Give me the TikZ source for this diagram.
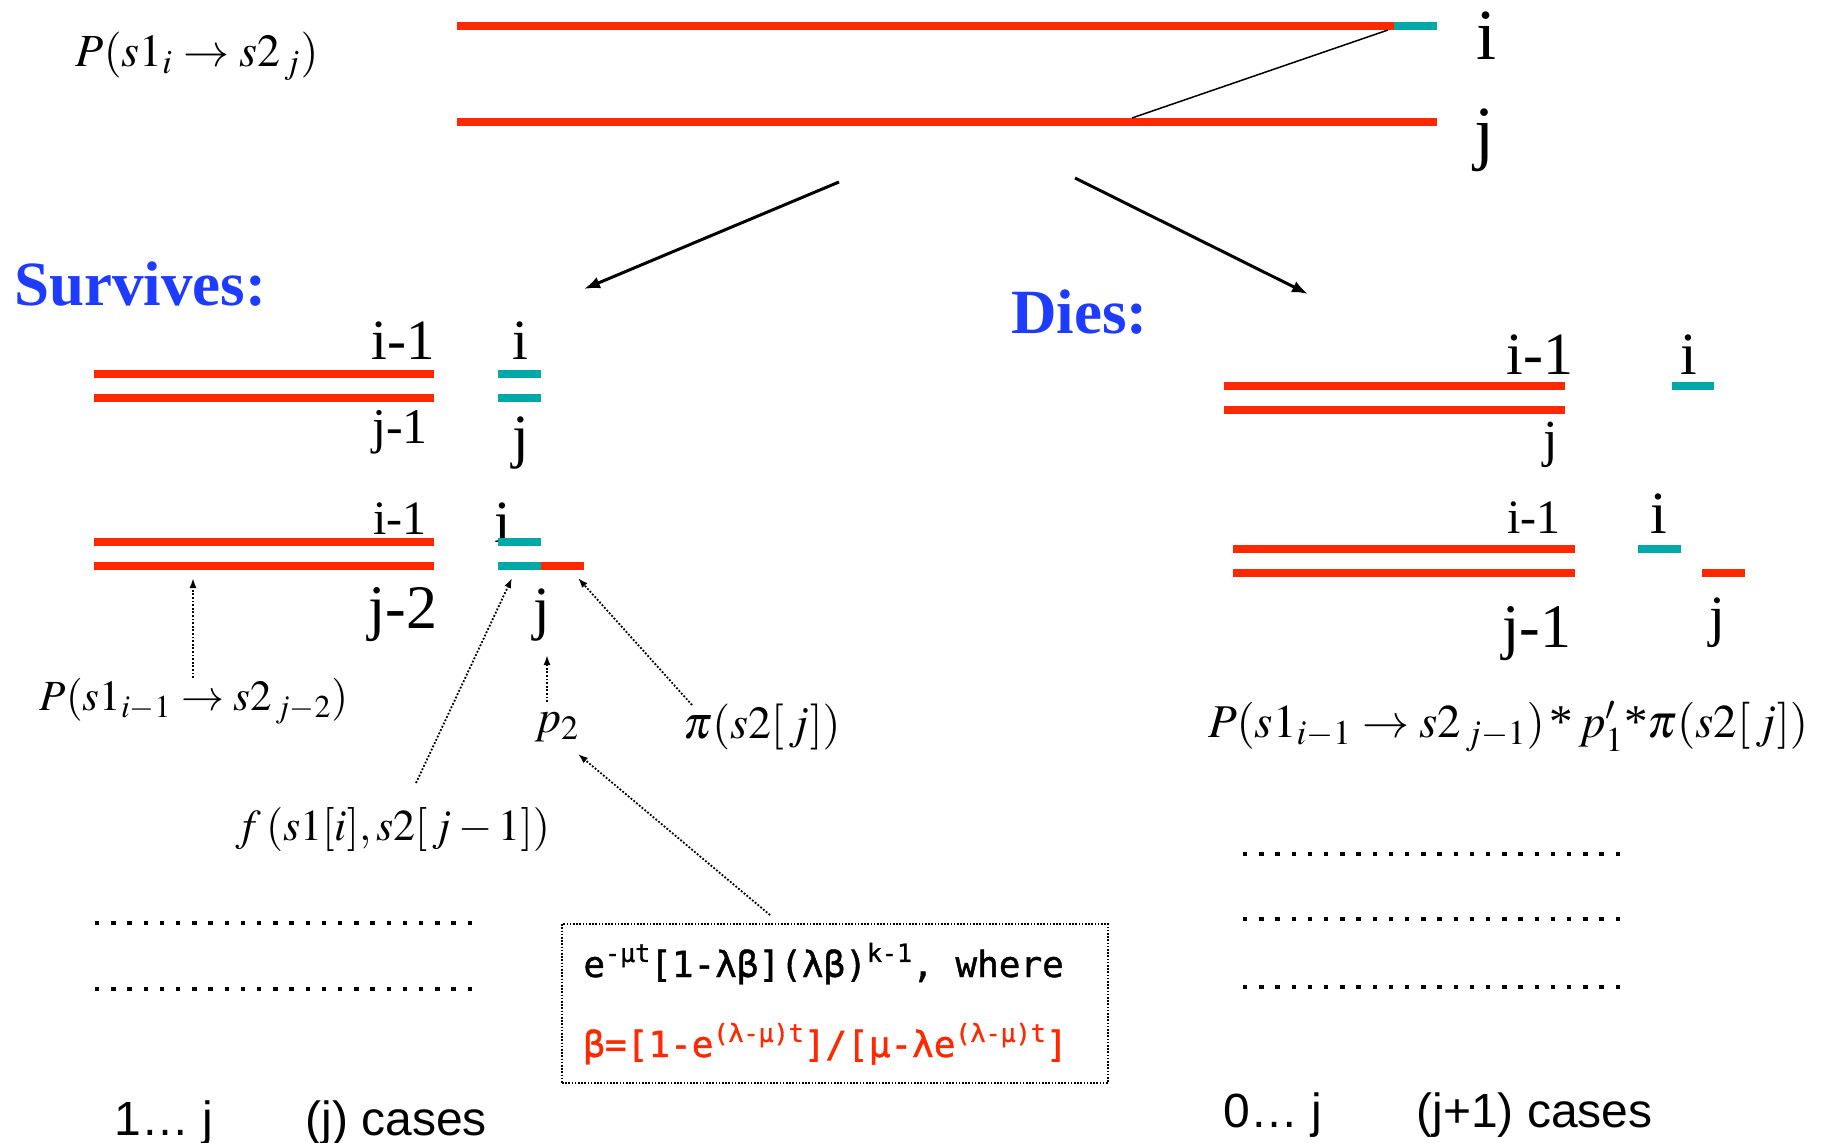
\documentclass[tikz,border=0pt]{standalone}
\usepackage{mathptmx}
\usepackage{fontspec}
\setmainfont{Liberation Serif}
\setsansfont{Liberation Sans}
\newfontfamily\boxfont[FakeBold=1.2]{DejaVu Sans Mono}
\usetikzlibrary{arrows.meta}
\definecolor{barred}{RGB}{255,40,0}
\definecolor{barteal}{RGB}{0,168,168}
\definecolor{headblue}{RGB}{30,60,255}
\newcommand\fs[1]{\fontsize{#1}{#1}\selectfont}
\newcommand\hsup[1]{\raisebox{0.42em}{\fs{12.5}#1}}
\begin{document}
\begin{tikzpicture}[x=0.5pt,y=-0.5pt,
  bar/.style={line width=4pt,barred},
  tbar/.style={line width=4pt,barteal},
  lbl/.style={inner sep=0pt,anchor=base,font=\fs{#1}},
  mth/.style={inner sep=0pt,font=\fs{#1}},
  mth/.default=23,
  big/.style={line width=1.5pt,-{Latex[length=8pt,width=6pt]}},
  dotarr/.style={line width=0.9pt,dash pattern=on 0.9pt off 0.9pt,-{Latex[length=5pt,width=3.5pt]}},
  ell/.style={line width=2.2pt,dash pattern=on 2.2pt off 5.9pt},
  head/.style={inner sep=0pt,anchor=base west,text=headblue,font=\fs{31.5}\bfseries},
  sans/.style={inner sep=0pt,anchor=base west,font=\sffamily\fs{24}},
  boxtxt/.style={inner sep=0pt,anchor=base west,font=\boxfont\fs{18}}]
\useasboundingbox (0,0) rectangle (1839,1143);

% ---------- top ----------
\draw[bar] (457,26) -- (1394,26);
\draw[tbar] (1394,26) -- (1437,26);
\draw[bar] (457,122) -- (1437,122);
\draw[line width=0.75pt] (1388,30) -- (1132,118);
\node[lbl=36] (ti) at (1486,60) {i};
\node[lbl=36] (tj) at (1484,157) {j};
\node[mth] (ptop) at (197,56) {$P(s1_i \rightarrow s2_{\,j})$};

% big arrows
\coordinate (la1) at (839,182); \coordinate (la2) at (584,289);
\coordinate (ra1) at (1075,178); \coordinate (ra2) at (1308,294);
\draw[big] (la1) -- (la2);
\draw[big] (ra1) -- (ra2);

% ---------- Survives ----------
\node[head] (surv) at (14,306) {Survives:};
\draw[bar] (94,374) -- (434,374);
\draw[bar] (94,398) -- (434,398);
\draw[tbar] (498,374) -- (541,374);
\draw[tbar] (498,398) -- (541,398);
\node[lbl=28.5] (s1a) at (403,360) {i-1};
\node[lbl=28.5] (s1b) at (520,360) {i};
\node[lbl=25] (s1c) at (400,444) {j-1};
\node[lbl=30] (s1d) at (521,457) {j};

\draw[bar] (94,542) -- (434,542);
\draw[bar] (94,566) -- (434,566);
\node[lbl=30] (s2b) at (503,543) {i};
\draw[tbar] (498,542) -- (541,542);
\draw[tbar] (498,566) -- (541,566);
\draw[bar] (541,566) -- (584,566);
\node[lbl=24] (s2a) at (400,535) {i-1};
\node[lbl=31] (s2c) at (403,628) {j-2};
\node[lbl=30] (s2d) at (542,628) {j};

\node[mth=21.5] (pprev) at (194,701) {$P(s1_{i-1} \rightarrow s2_{\,j-2})$};
\node[mth] (p2) at (557,727) {$p_2$};
\node[mth] (pi) at (762,727) {$\pi(s2[\,j])$};
\node[mth=22] (fsub) at (393,829) {$f\,(s1[i],s2[\,j-1])$};

\coordinate (t1) at (193,578);
\coordinate (f0) at (416,783); \coordinate (t2) at (512,578);
\coordinate (p0) at (547,702); \coordinate (t3) at (547,655);
\coordinate (q0) at (692,705); \coordinate (t4) at (578,578);
\coordinate (b0) at (770,915); \coordinate (t5) at (578,754);
\draw[dotarr] (pprev.north -| t1) -- (t1);
\draw[dotarr] (f0) -- (t2);
\draw[dotarr] (p0) -- (t3);
\draw[dotarr] (q0) -- (t4);
\draw[dotarr] (b0) -- (t5);

\draw[ell] (95,923) -- ++(377,0);
\draw[ell] (95,989) -- ++(377,0);

\node[draw,line width=0.8pt,dash pattern=on 0.8pt off 0.8pt,minimum width=273pt,minimum height=79.5pt,inner sep=0pt] (box) at (835,1003.5) {};
\node[boxtxt] (bl1) at (583,977) {e\hsup{-μt}[1-λβ](λβ)\hsup{k-1}, where};
\node[boxtxt,text=barred] (bl2) at (583,1057) {β=[1-e\hsup{(λ-μ)t}]/[μ-λe\hsup{(λ-μ)t}]};

\node[sans] (lc1) at (114,1135) {1… j};
\node[sans] (lc2) at (305,1135) {(j) cases};

% ---------- Dies ----------
\node[head] (dies) at (1011,334) {Dies:};
\draw[bar] (1224,386) -- (1565,386);
\draw[bar] (1224,410) -- (1565,410);
\draw[tbar] (1672,386) -- (1714,386);
\node[lbl=30] (d1a) at (1540,375) {i-1};
\node[lbl=30] (d1b) at (1689,375) {i};
\node[lbl=26] (d1c) at (1551,457) {j};

\draw[bar] (1233,549) -- (1575,549);
\draw[bar] (1233,573) -- (1575,573);
\draw[tbar] (1638,549) -- (1681,549);
\draw[bar] (1702,573) -- (1745,573);
\node[lbl=24] (d2a) at (1534,533) {i-1};
\node[lbl=30] (d2b) at (1659,533) {i};
\node[lbl=31] (d2c) at (1537,647) {j-1};
\node[lbl=28.5] (d2d) at (1717,635) {j};

\node[mth=23.5] (pdies) at (1508,727) {$P(s1_{i-1} \rightarrow s2_{\,j-1})\,\textrm{*}\,p'_1\textrm{*}\pi(s2[\,j])$};

\draw[ell] (1243,854) -- ++(377,0);
\draw[ell] (1243,919) -- ++(377,0);
\draw[ell] (1243,987) -- ++(377,0);

\node[sans] (rc1) at (1223,1127) {0… j};
\node[sans] (rc2) at (1416,1127) {(j+1) cases};
\end{tikzpicture}
\end{document}
